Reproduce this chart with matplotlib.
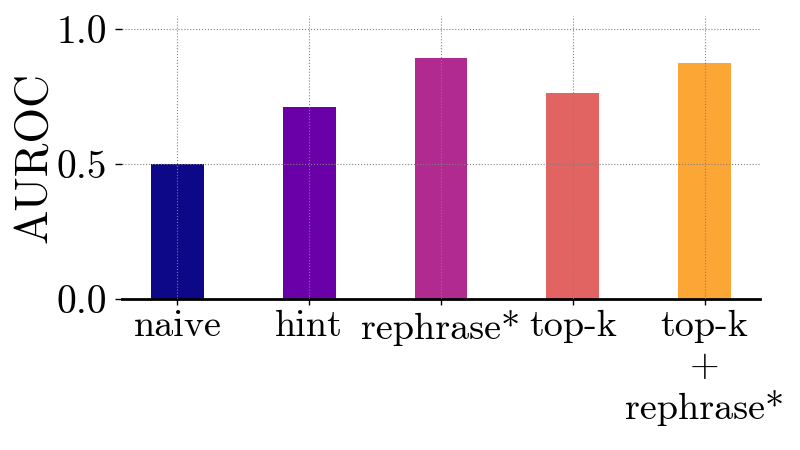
import numpy as np
import matplotlib
matplotlib.use("Agg")
import matplotlib.pyplot as plt

# Datos
metodos = ["naive", "hint", "rephrase*", "top-k", "top-k\n+\nrephrase*"]
auroc = [0.50, 0.711, 0.893, 0.763, 0.874]
colores = ["#0d0887", "#6a00a8", "#b12a90", "#e16462", "#fca636"]

plt.rcParams["font.family"] = "cmr10"
plt.rcParams["mathtext.fontset"] = "cm"
plt.rcParams["axes.formatter.use_mathtext"] = True

fig = plt.figure(figsize=(8, 4.5), dpi=100)
ax = fig.add_axes([0.1525, 0.3356, 0.7975, 0.6284])

x = np.arange(len(metodos))
ax.bar(x, auroc, width=0.4, color=colores, zorder=1)

ax.set_ylim(0, 1.048)
ax.set_yticks([0.0, 0.5, 1.0])
ax.set_yticklabels(["0.0", "0.5", "1.0"], fontsize=28.5)
ax.set_xticks(x)
ax.set_xticklabels(metodos, fontsize=27.5, linespacing=1.25)
ax.set_ylabel("AUROC", fontsize=33, labelpad=1)

ax.grid(True, linestyle=":", color="grey", linewidth=0.8, zorder=2)
ax.set_axisbelow(False)

for s in ["top", "right", "left"]:
    ax.spines[s].set_visible(False)
ax.spines["bottom"].set_linewidth(2)
ax.tick_params(axis="x", length=4, width=1, pad=4)
ax.tick_params(axis="y", length=5, width=1, pad=6)

plt.savefig("out.png", dpi=100)
